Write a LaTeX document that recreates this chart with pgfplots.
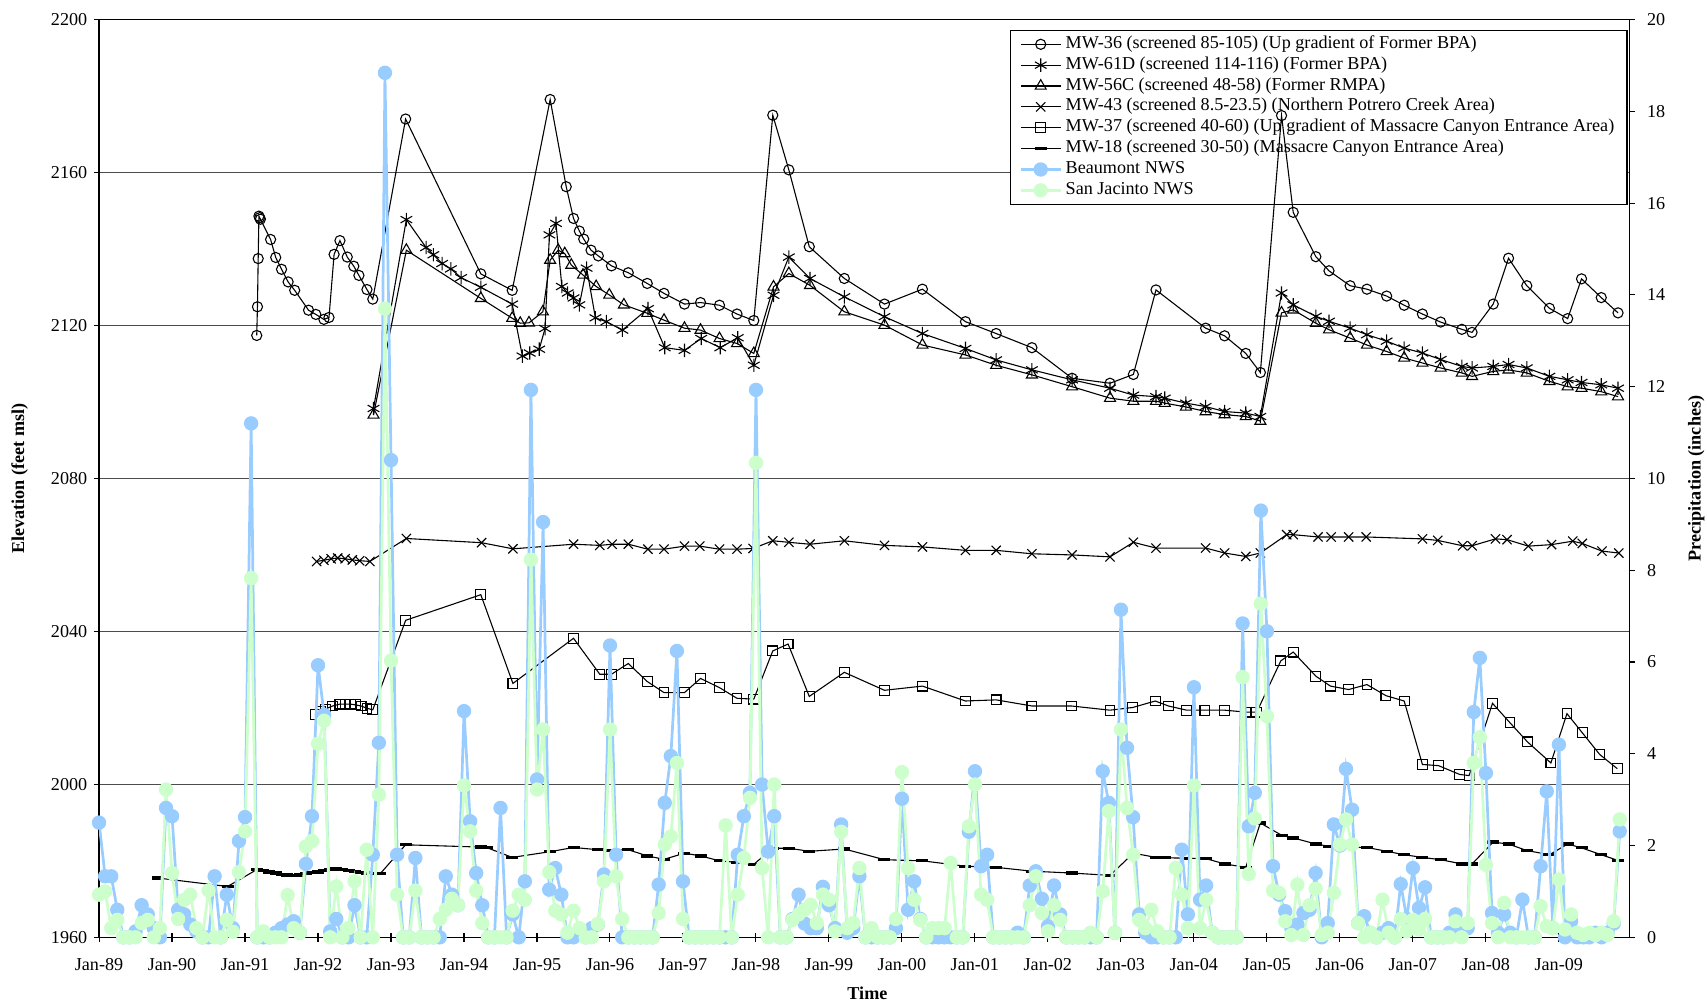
\documentclass[border=0pt]{standalone}
\usepackage{fontspec}
\setmainfont{Liberation Serif}
\usepackage{pgfplots}
\pgfplotsset{compat=1.18}
\definecolor{bmt}{RGB}{153,204,255}
\definecolor{sjc}{RGB}{204,255,204}
\pgfplotsset{
  common/.style={scale only axis, width=843.6pt, height=505.8pt,
    /pgf/number format/assume math mode=true, /pgf/number format/1000 sep={},
    tick label style={font=\fontsize{10}{12}\selectfont}},
  wA/.style={black, line width=0.6pt, mark=o, mark size=2.8pt},
  wB/.style={black, line width=0.6pt, mark=asterisk, mark size=3.7pt},
  wC/.style={black, line width=0.6pt, mark=triangle, mark size=3.5pt},
  wD/.style={black, line width=0.6pt, mark=x, mark size=3.6pt},
  wE/.style={black, line width=0.6pt, mark=square, mark size=2.7pt},
  wF/.style={black, line width=0.6pt, mark=-, mark size=3.3pt, mark options={line width=1.8pt}},
  pB/.style={color=bmt, line width=1.5pt, mark=*, mark size=3.2pt},
  pS/.style={color=sjc, line width=1.5pt, mark=*, mark size=3.2pt},
}
\begin{document}
\begin{tikzpicture}
% ---------- Axis A: left axis, grid, legend ----------
\begin{axis}[common,
  xmin=1989, xmax=2009.97, ymin=1960, ymax=2200,
  xtick={1989,...,2009},
  xticklabels={Jan-89,Jan-90,Jan-91,Jan-92,Jan-93,Jan-94,Jan-95,Jan-96,Jan-97,Jan-98,Jan-99,Jan-00,Jan-01,Jan-02,Jan-03,Jan-04,Jan-05,Jan-06,Jan-07,Jan-08,Jan-09},
  ytick={1960,2000,...,2200},
  tick pos=left,
  ytick align=outside, xtick align=center,
  major tick length=3pt,
  xtick style={/pgfplots/major tick length=5pt},
  tick style={black, line width=0.6pt},
  xticklabel style={yshift=-6.5pt},
  ymajorgrids, grid style={black!70, line width=0.5pt},
  axis line style={line width=0.8pt},
  xlabel={Time}, ylabel={Elevation (feet msl)},
  every axis x label/.style={at={(axis description cs:0.502,-0.0605)}, anchor=center, font=\fontsize{10}{12}\selectfont\bfseries},
  every axis y label/.style={at={(axis description cs:-0.0519,0.5)}, rotate=90, anchor=center, font=\fontsize{10}{12}\selectfont\bfseries},
  legend cell align=left,
  legend image code/.code={\draw[mark repeat=2,mark phase=2,#1] plot coordinates {(0pt,0pt) (11pt,0pt) (22pt,0pt)};},
  legend style={at={(axis description cs:0.9986,0.989)}, anchor=north east,
    font=\fontsize{10}{11}\selectfont, draw=black, line width=0.6pt, fill=white,
    inner xsep=5pt, inner ysep=2pt, row sep=0pt,
    nodes={inner ysep=0pt, inner xsep=2pt, text height=8pt, text depth=3.5pt}},
]
\addlegendimage{wA}\addlegendentry{MW-36 (screened 85-105) (Up gradient of Former BPA)}
\addlegendimage{wB}\addlegendentry{MW-61D (screened 114-116) (Former BPA)}
\addlegendimage{wC}\addlegendentry{MW-56C (screened 48-58) (Former RMPA)}
\addlegendimage{wD}\addlegendentry{MW-43 (screened 8.5-23.5) (Northern Potrero Creek Area)}
\addlegendimage{wE}\addlegendentry{MW-37 (screened 40-60) (Up gradient of Massacre Canyon Entrance Area)}
\addlegendimage{wF}\addlegendentry{MW-18 (screened 30-50) (Massacre Canyon Entrance Area)}
\addlegendimage{pB}\addlegendentry{Beaumont NWS}
\addlegendimage{pS}\addlegendentry{San Jacinto NWS}
\coordinate (bl) at (rel axis cs:0,0);
\coordinate (tr) at (rel axis cs:1,1);
\end{axis}
% ---------- Axis C: wells ----------
\begin{axis}[common, hide axis,
  xmin=1989, xmax=2009.97, ymin=1960, ymax=2200]
\addplot[wA] table {
1991.16 2117.4
1991.17 2124.9
1991.18 2137.5
1991.19 2148.6
1991.20 2148.2
1991.21 2147.8
1991.35 2142.5
1991.42 2137.8
1991.50 2134.7
1991.59 2131.4
1991.68 2129.2
1991.87 2124.0
1991.97 2122.9
1992.08 2121.6
1992.15 2122.1
1992.22 2138.6
1992.30 2142.2
1992.40 2137.9
1992.49 2135.5
1992.56 2133.1
1992.67 2129.4
1992.75 2126.9
1993.20 2174.0
1994.23 2133.5
1994.66 2129.2
1995.18 2179.1
1995.40 2156.3
1995.50 2148.0
1995.58 2144.7
1995.64 2142.6
1995.74 2139.7
1995.84 2138.2
1996.02 2135.6
1996.25 2133.8
1996.51 2131.0
1996.74 2128.4
1997.02 2125.6
1997.24 2126.0
1997.50 2125.3
1997.74 2123.0
1997.97 2121.3
1998.23 2175.0
1998.45 2160.7
1998.73 2140.6
1999.21 2132.3
1999.76 2125.6
2000.28 2129.5
2000.87 2121.0
2001.29 2117.9
2001.78 2114.2
2002.33 2106.2
2002.85 2104.9
2003.17 2107.2
2003.48 2129.3
2004.16 2119.3
2004.42 2117.3
2004.71 2112.7
2004.91 2107.7
2005.20 2174.9
2005.36 2149.6
2005.67 2138.0
2005.85 2134.3
2006.14 2130.4
2006.37 2129.5
2006.64 2127.7
2006.88 2125.3
2007.13 2123.0
2007.38 2120.9
2007.67 2119.0
2007.81 2118.2
2008.10 2125.6
2008.31 2137.6
2008.56 2130.4
2008.87 2124.5
2009.12 2121.8
2009.31 2132.2
2009.58 2127.3
2009.81 2123.3
};
\addplot[wB] table {
1992.76 2098.3
1993.21 2147.7
1993.48 2140.4
1993.58 2138.5
1993.70 2136.2
1993.82 2134.8
1993.96 2132.5
1994.23 2130.0
1994.66 2125.6
1994.80 2112.0
1994.90 2112.8
1995.03 2113.8
1995.11 2119.2
1995.17 2143.7
1995.26 2146.7
1995.34 2130.2
1995.42 2128.5
1995.50 2127.2
1995.58 2125.4
1995.68 2135.0
1995.80 2122.0
1995.95 2121.0
1996.17 2118.8
1996.52 2124.4
1996.75 2114.2
1997.02 2113.5
1997.25 2116.6
1997.51 2114.2
1997.75 2116.8
1997.97 2109.6
1998.24 2127.9
1998.45 2137.9
1998.74 2132.3
1999.21 2127.5
1999.76 2122.3
2000.28 2117.9
2000.87 2114.0
2001.29 2111.0
2001.78 2108.4
2002.33 2105.8
2002.85 2103.6
2003.17 2101.8
2003.48 2101.4
2003.60 2101.0
2003.89 2099.7
2004.16 2098.8
2004.42 2097.5
2004.71 2097.1
2004.91 2096.2
2005.20 2128.5
2005.36 2125.4
2005.67 2122.4
2005.85 2121.1
2006.14 2119.3
2006.37 2117.6
2006.64 2115.9
2006.88 2114.1
2007.13 2112.8
2007.38 2111.1
2007.67 2109.3
2007.81 2108.9
2008.10 2109.3
2008.31 2109.8
2008.56 2108.9
2008.87 2106.7
2009.12 2105.8
2009.31 2105.1
2009.58 2104.5
2009.81 2103.6
};
\addplot[wC] table {
1992.76 2096.6
1993.21 2139.7
1994.23 2127.1
1994.66 2121.9
1994.77 2120.6
1994.89 2120.7
1995.08 2123.6
1995.18 2137.1
1995.29 2139.7
1995.38 2138.8
1995.47 2135.8
1995.63 2133.2
1995.81 2130.2
1995.99 2128.0
1996.19 2125.4
1996.51 2123.2
1996.74 2121.4
1997.02 2119.3
1997.24 2118.8
1997.50 2116.6
1997.74 2115.3
1997.97 2112.7
1998.24 2130.1
1998.45 2133.6
1998.74 2130.5
1999.21 2123.6
1999.76 2120.1
2000.28 2114.9
2000.87 2112.3
2001.29 2109.6
2001.78 2107.1
2002.33 2104.0
2002.85 2101.0
2003.17 2100.2
2003.48 2100.2
2003.60 2099.7
2003.89 2098.7
2004.16 2097.5
2004.42 2096.7
2004.71 2096.2
2004.91 2095.0
2005.20 2123.3
2005.36 2124.1
2005.67 2120.6
2005.85 2118.9
2006.14 2116.7
2006.37 2114.9
2006.64 2113.2
2006.88 2111.5
2007.13 2110.2
2007.38 2108.9
2007.67 2107.6
2007.81 2106.7
2008.10 2108.0
2008.31 2108.4
2008.56 2107.6
2008.87 2105.4
2009.12 2104.0
2009.31 2103.6
2009.58 2102.7
2009.81 2101.4
};
\addplot[wD] table {
1991.98 2058.3
1992.08 2058.6
1992.18 2059.0
1992.27 2059.2
1992.37 2059.0
1992.47 2058.7
1992.57 2058.5
1992.71 2058.3
1993.21 2064.3
1994.24 2063.2
1994.67 2061.6
1995.50 2062.8
1995.86 2062.5
1996.03 2062.8
1996.25 2062.8
1996.52 2061.5
1996.74 2061.5
1997.02 2062.3
1997.23 2062.3
1997.50 2061.5
1997.74 2061.5
1997.96 2061.7
1998.23 2063.7
1998.45 2063.3
1998.74 2062.8
1999.21 2063.7
1999.76 2062.5
2000.28 2062.1
2000.87 2061.2
2001.29 2061.2
2001.78 2060.3
2002.33 2060.0
2002.85 2059.5
2003.17 2063.3
2003.48 2061.8
2004.16 2061.8
2004.42 2060.5
2004.71 2059.6
2004.91 2060.5
2005.27 2065.3
2005.36 2065.3
2005.70 2064.7
2005.88 2064.7
2006.12 2064.7
2006.36 2064.7
2007.13 2064.2
2007.34 2063.8
2007.68 2062.4
2007.81 2062.4
2008.13 2064.2
2008.29 2064.0
2008.58 2062.3
2008.90 2062.7
2009.19 2063.6
2009.32 2063.0
2009.59 2061.0
2009.82 2060.5
};
\addplot[wE] table {
1991.96 2018.3
1992.04 2019.0
1992.10 2019.7
1992.20 2020.5
1992.30 2021.0
1992.37 2021.0
1992.44 2021.0
1992.51 2020.8
1992.59 2020.5
1992.67 2019.9
1992.75 2019.5
1993.20 2042.9
1994.23 2049.6
1994.67 2026.4
1995.50 2038.2
1995.86 2028.8
1996.02 2028.8
1996.25 2031.6
1996.51 2026.9
1996.74 2024.0
1997.02 2024.0
1997.24 2027.7
1997.50 2025.3
1997.74 2022.5
1997.97 2022.3
1998.23 2034.9
1998.44 2036.7
1998.73 2023.0
1999.21 2029.3
1999.76 2024.6
2000.28 2025.7
2000.87 2021.8
2001.29 2022.1
2001.78 2020.5
2002.32 2020.5
2002.85 2019.4
2003.16 2020.1
2003.47 2021.8
2003.65 2020.5
2003.90 2019.4
2004.15 2019.4
2004.42 2019.4
2004.71 2018.9
2004.86 2018.9
2005.19 2032.3
2005.36 2034.6
2005.67 2028.3
2005.87 2025.7
2006.12 2024.8
2006.37 2026.1
2006.63 2023.2
2006.88 2021.8
2007.13 2005.2
2007.35 2004.9
2007.64 2002.6
2007.77 2002.3
2008.09 2021.2
2008.33 2016.1
2008.57 2011.1
2008.89 2005.6
2009.11 2018.5
2009.32 2013.5
2009.56 2007.8
2009.80 2004.1
};
\addplot[wF] table {
1989.81 1975.5
1990.76 1973.3
1991.17 1977.8
1991.25 1977.5
1991.33 1977.1
1991.42 1976.8
1991.50 1976.5
1991.58 1976.3
1991.67 1976.2
1991.75 1976.3
1991.83 1976.6
1991.92 1976.9
1992.00 1977.1
1992.08 1977.4
1992.17 1977.8
1992.25 1977.9
1992.33 1977.7
1992.42 1977.5
1992.50 1977.3
1992.58 1977.0
1992.67 1976.8
1992.75 1976.6
1992.85 1976.6
1993.20 1984.2
1994.23 1983.6
1994.32 1983.4
1994.66 1980.9
1995.18 1982.4
1995.50 1983.5
1995.84 1982.9
1996.02 1982.8
1996.25 1982.9
1996.51 1981.3
1996.74 1980.4
1997.02 1982.0
1997.24 1981.3
1997.50 1980.0
1997.74 1979.6
1997.97 1979.1
1998.23 1983.3
1998.45 1983.3
1998.73 1982.5
1999.21 1983.1
1999.76 1980.3
2000.28 1980.0
2000.87 1978.6
2001.29 1978.3
2001.78 1977.3
2002.33 1976.8
2002.85 1976.2
2003.17 1982.0
2003.48 1980.9
2003.60 1980.8
2003.89 1980.7
2004.16 1980.6
2004.42 1979.2
2004.71 1978.3
2004.91 1989.9
2005.20 1986.7
2005.36 1986.0
2005.67 1984.4
2005.85 1983.8
2006.14 1983.6
2006.37 1983.5
2006.64 1982.5
2006.88 1981.6
2007.13 1980.9
2007.38 1980.3
2007.67 1979.2
2007.81 1979.2
2008.10 1984.9
2008.31 1984.4
2008.56 1982.7
2008.87 1981.6
2009.12 1984.4
2009.31 1983.4
2009.58 1981.6
2009.81 1980.1
};
\end{axis}
% ---------- Axis B: precipitation (right axis), x in months since Jan-89 ----------
\begin{axis}[common,
  xmin=0, xmax=251.64, ymin=0, ymax=20,
  axis y line*=right, axis x line=none,
  ytick={0,2,...,20},
  ytick align=outside, major tick length=3pt,
  tick style={black, line width=0.6pt},
  yticklabel style={xshift=3pt},
  axis line style={line width=0.8pt},
  ylabel={Precipitation (inches)},
  every axis y label/.style={at={(axis description cs:1.0434,0.5)}, rotate=90, anchor=center, font=\fontsize{10}{12}\selectfont\bfseries},
]
\addplot[pB] table {
0 2.5
1 1.33
2 1.33
3 0.6
4 0
5 0
6 0.13
7 0.7
8 0.5
9 0.2
10 0
11 2.82
12 2.64
13 0.6
14 0.5
15 0.28
16 0.13
17 0
18 0
19 1.33
20 0
21 0.93
22 0.2
23 2.1
24 2.62
25 11.2
26 0
27 0
28 0
29 0.1
30 0.2
31 0.28
32 0.35
33 0.1
34 1.6
35 2.64
36 5.93
37 4.85
38 0.13
39 0.4
40 0
41 0
42 0.7
43 0
44 0
45 1.8
46 4.24
47 18.84
48 10.4
49 1.8
50 0
51 0
52 1.73
53 0
54 0
55 0
56 0
57 1.33
58 0.93
59 0.7
60 4.93
61 2.53
62 1.4
63 0.7
64 0
65 0
66 2.82
67 0
68 0.5
69 0
70 1.22
71 11.93
72 3.44
73 9.05
74 1.04
75 1.51
76 0.93
77 0
78 0
79 0.1
80 0
81 0.2
82 0.28
83 1.37
84 6.36
85 1.8
86 0
87 0
88 0
89 0
90 0
91 0
92 1.15
93 2.93
94 3.95
95 6.24
96 1.22
97 0
98 0
99 0
100 0
101 0
102 0
103 0
104 0
105 1.8
106 2.64
107 3.15
108 11.93
109 3.33
110 1.87
111 2.64
112 0
113 0
114 0.4
115 0.93
116 0.3
117 0.2
118 0.2
119 1.1
120 0.7
121 0.2
122 2.46
123 0.1
124 0.2
125 1.33
126 0
127 0
128 0
129 0
130 0
131 0.2
132 3.02
133 0.6
134 1.22
135 0.4
136 0
137 0
138 0
139 0
140 0
141 0
142 0
143 2.3
144 3.62
145 1.55
146 1.8
147 0
148 0
149 0
150 0
151 0.1
152 0
153 1.13
154 1.44
155 0.84
156 0.24
157 1.13
158 0.5
159 0
160 0
161 0
162 0
163 0
164 0
165 3.62
166 2.93
167 0.1
168 7.14
169 4.13
170 2.62
171 0.5
172 0.1
173 0
174 0
175 0
176 0
177 0
178 1.91
179 0.5
180 5.45
181 0.82
182 1.13
183 0.1
184 0
185 0
186 0
187 0
188 6.84
189 2.42
190 3.15
191 9.3
192 6.67
193 1.55
194 0.93
195 0.57
196 0.2
197 0.28
198 0.53
199 0.6
200 1.4
201 0
202 0.31
203 2.46
204 2.0
205 3.67
206 2.78
207 0.31
208 0.46
209 0.1
210 0
211 0.1
212 0.2
213 0
214 1.16
215 0.4
216 1.51
217 0.64
218 1.09
219 0
220 0
221 0
222 0.1
223 0.5
224 0.2
225 0.2
226 4.91
227 6.09
228 3.58
229 0.53
230 0.1
231 0.5
232 0.1
233 0
234 0.82
235 0
236 0
237 1.55
238 3.18
239 0.2
240 4.2
241 0
242 0.35
243 0
244 0
245 0
246 0.1
247 0
248 0.1
249 0.3
250 2.31
};
\addplot[pS] table {
0 0.93
1 1.0
2 0.2
3 0.38
4 0
5 0
6 0
7 0.31
8 0.38
9 0
10 0.2
11 3.22
12 1.4
13 0.4
14 0.82
15 0.93
16 0.2
17 0
18 1.02
19 0
20 0
21 0.38
22 0.12
23 1.42
24 2.31
25 7.83
26 0
27 0.13
28 0
29 0
30 0
31 0.92
32 0.2
33 0.1
34 1.98
35 2.1
36 4.22
37 4.72
38 0
39 1.11
40 0
41 0.2
42 1.22
43 0
44 1.91
45 0
46 3.11
47 13.7
48 6.03
49 0.93
50 0
51 0
52 1.02
53 0
54 0
55 0
56 0.4
57 0.6
58 0.84
59 0.7
60 3.31
61 2.31
62 1.02
63 0.31
64 0
65 0
66 0
67 0
68 0.58
69 0.93
70 0.82
71 8.23
72 3.22
73 4.53
74 1.42
75 0.58
76 0.5
77 0.1
78 0.58
79 0.2
80 0
81 0
82 0.29
83 1.22
84 4.53
85 1.33
86 0.4
87 0
88 0
89 0
90 0
91 0
92 0.53
93 2.02
94 2.2
95 3.8
96 0.4
97 0
98 0
99 0
100 0
101 0
102 0
103 2.44
104 0
105 0.93
106 1.73
107 3.04
108 10.34
109 1.51
110 0
111 3.33
112 0
113 0
114 0.38
115 0.5
116 0.6
117 0.71
118 0.31
119 0.93
120 0.82
121 0.13
122 2.3
123 0.2
124 0.31
125 1.51
126 0
127 0.2
128 0
129 0
130 0
131 0.4
132 3.6
133 1.51
134 0.82
135 0.38
136 0
137 0.2
138 0.2
139 0.2
140 1.62
141 0
142 0
143 2.42
144 3.33
145 0.93
146 0.82
147 0
148 0
149 0
150 0
151 0
152 0
153 0.7
154 1.33
155 0.53
156 0.13
157 0.7
158 0.38
159 0
160 0
161 0
162 0
163 0.1
164 0
165 1.0
166 2.75
167 0.1
168 4.53
169 2.82
170 1.8
171 0.38
172 0.2
173 0.6
174 0.13
175 0
176 0
177 1.51
178 0.93
179 0.2
180 3.31
181 0.2
182 0.82
183 0.1
184 0
185 0
186 0
187 0
188 5.67
189 1.38
190 2.59
191 7.27
192 4.82
193 1.02
194 0.97
195 0.35
196 0.05
197 1.15
198 0.05
199 0.7
200 1.06
201 0.05
202 0.1
203 0.97
204 2.02
205 2.57
206 2.02
207 0.31
208 0
209 0.1
210 0
211 0.82
212 0.1
213 0
214 0.4
215 0.13
216 0.38
217 0.17
218 0.4
219 0
220 0
221 0
222 0
223 0.35
224 0
225 0.31
226 3.8
227 4.36
228 1.58
229 0.31
230 0
231 0.75
232 0
233 0
234 0
235 0
236 0
237 0.68
238 0.24
239 0.2
240 1.26
241 0.17
242 0.5
243 0.1
244 0.05
245 0.1
246 0.05
247 0.1
248 0.05
249 0.35
250 2.57
};
\end{axis}
\pgfresetboundingbox
\path[use as bounding box] ([xshift=-54.6pt,yshift=-35.4pt]bl) rectangle ([xshift=42.6pt,yshift=10.8pt]tr);
\end{tikzpicture}
\end{document}
